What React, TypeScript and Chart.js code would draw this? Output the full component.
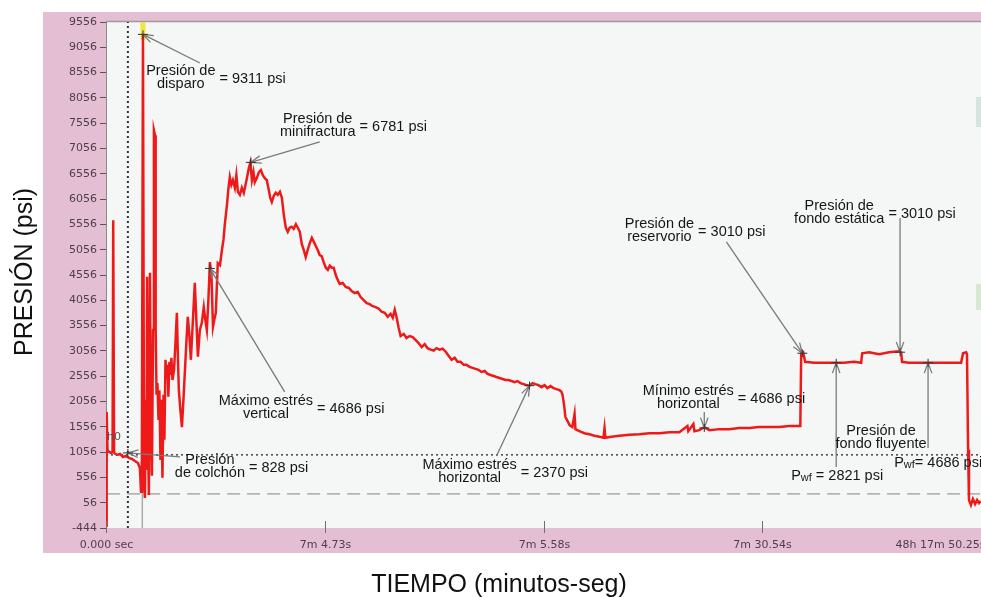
import React, { useEffect, useRef } from "react";
import { Chart, registerables } from "chart.js";

Chart.register(...registerables);

// ---------- axis ticks ----------
const xTickValues = [0, 1, 2, 3, 4];
const xTickLabels = ["0.000 sec", "7m 4.73s", "7m 5.58s", "7m 30.54s", "48h 17m 50.25s"];
const yTickValues = [-444, 56, 556, 1056, 1556, 2056, 2556, 3056, 3556, 4056, 4556, 5056, 5556, 6056, 6556, 7056, 7556, 8056, 8556, 9056, 9556];

// ---------- pressure record (time index, psi) ----------
const timeIdx = [
  0.000, 0.002, 0.004, 0.007, 0.014, 0.023, 0.030, 0.033, 0.037, 0.050, 0.064, 0.078, 0.091, 0.105, 0.119, 0.132,
  0.146, 0.155, 0.160, 0.164, 0.169, 0.172, 0.174, 0.178, 0.182, 0.185, 0.188, 0.192, 0.196, 0.201, 0.205, 0.210,
  0.215, 0.219, 0.224, 0.227, 0.231, 0.235, 0.240, 0.244, 0.249, 0.253, 0.258, 0.263, 0.267, 0.272, 0.276, 0.281,
  0.285, 0.290, 0.295, 0.299, 0.304, 0.311, 0.317, 0.324, 0.329, 0.333, 0.340, 0.347, 0.354, 0.361, 0.368, 0.374,
  0.381, 0.388, 0.395, 0.402, 0.406, 0.413, 0.420, 0.429, 0.438, 0.447, 0.454, 0.461, 0.468, 0.475, 0.482, 0.489,
  0.495, 0.502, 0.507, 0.511, 0.521, 0.530, 0.537, 0.543, 0.553, 0.559, 0.566, 0.573, 0.580, 0.589, 0.596, 0.603,
  0.612, 0.621, 0.630, 0.637, 0.644, 0.653, 0.660, 0.667, 0.674, 0.680, 0.689, 0.699, 0.708, 0.717, 0.726, 0.735,
  0.744, 0.751, 0.758, 0.767, 0.776, 0.785, 0.795, 0.804, 0.813, 0.822, 0.831, 0.840, 0.849, 0.858, 0.868, 0.877,
  0.886, 0.895, 0.904, 0.913, 0.922, 0.932, 0.941, 0.950, 0.959, 0.968, 0.977, 0.986, 0.995, 1.005, 1.014, 1.023,
  1.032, 1.041, 1.050, 1.059, 1.068, 1.082, 1.096, 1.110, 1.123, 1.137, 1.151, 1.164, 1.178, 1.192, 1.205, 1.219,
  1.233, 1.247, 1.260, 1.274, 1.288, 1.301, 1.311, 1.320, 1.329, 1.338, 1.347, 1.361, 1.374, 1.388, 1.402, 1.416,
  1.429, 1.443, 1.457, 1.470, 1.484, 1.498, 1.511, 1.525, 1.539, 1.553, 1.566, 1.580, 1.594, 1.607, 1.621, 1.635,
  1.648, 1.662, 1.676, 1.689, 1.703, 1.717, 1.731, 1.744, 1.758, 1.772, 1.785, 1.799, 1.813, 1.826, 1.840, 1.854,
  1.868, 1.881, 1.895, 1.909, 1.922, 1.936, 1.950, 1.963, 1.977, 1.991, 2.005, 2.018, 2.032, 2.046, 2.059, 2.073,
  2.082, 2.087, 2.094, 2.100, 2.110, 2.119, 2.132, 2.142, 2.146, 2.164, 2.187, 2.210, 2.233, 2.256, 2.274, 2.279,
  2.283, 2.311, 2.347, 2.393, 2.438, 2.484, 2.530, 2.575, 2.621, 2.658, 2.662, 2.685, 2.690, 2.712, 2.735, 2.758,
  2.804, 2.849, 2.895, 2.941, 2.986, 3.032, 3.078, 3.123, 3.174, 3.178, 3.187, 3.196, 3.237, 3.283, 3.333, 3.374,
  3.420, 3.452, 3.457, 3.489, 3.534, 3.580, 3.626, 3.635, 3.639, 3.671, 3.717, 3.753, 3.808, 3.854, 3.909, 3.918,
  3.932, 3.936, 3.941, 3.945, 3.954, 3.963, 3.973, 3.982, 3.991, 3.998,
];
const pressurePsi = [
  -400, 10, 1850, 1100, 1060, 1040, 1060, 5640, 1040, 1000, 1020, 960, 980, 940, 920, 880,
  840, 740, 270, 940, 9311, 4060, 410, 150, 2090, 700, 4520, 1300, 210, 4600, 1690, 590,
  3470, 7420, 7320, 3470, 2190, 2420, 1690, 2280, 900, 2090, 550, 2190, 1300, 2880, 2520, 2780,
  2150, 2840, 2580, 2920, 2480, 2680, 3170, 3810, 2880, 2280, 1890, 1550, 2090, 2680, 3270, 3730,
  3370, 2880, 3470, 4060, 4400, 3670, 2940, 3470, 3610, 3920, 3670, 3470, 4060, 4810, 4560, 3530,
  3670, 3810, 4360, 4790, 4750, 5050, 5250, 5550, 5940, 6240, 6490, 6340, 6430, 6280, 6530, 6200,
  6140, 6280, 6180, 6320, 6470, 6670, 6780, 6430, 6590, 6390, 6470, 6590, 6630, 6530, 6470, 6430,
  6240, 6080, 6000, 6120, 6180, 6140, 6200, 6080, 5740, 5490, 5410, 5490, 5510, 5470, 5560, 5490,
  5410, 5170, 5050, 4910, 5050, 5190, 5290, 5210, 5130, 5050, 4950, 4930, 4810, 4700, 4660, 4740,
  4700, 4700, 4560, 4460, 4380, 4400, 4320, 4300, 4240, 4200, 4220, 4120, 4060, 4000, 3980, 3940,
  3920, 3890, 3830, 3810, 3730, 3790, 3710, 3870, 3710, 3510, 3350, 3390, 3310, 3350, 3330, 3270,
  3210, 3130, 3190, 3110, 3080, 3060, 3110, 3080, 3100, 3040, 2960, 2880, 2920, 2840, 2840, 2780,
  2780, 2740, 2720, 2700, 2680, 2640, 2660, 2600, 2580, 2560, 2540, 2520, 2500, 2480, 2480, 2460,
  2440, 2460, 2420, 2400, 2380, 2370, 2420, 2400, 2380, 2340, 2380, 2320, 2360, 2320, 2300, 2280,
  2250, 2190, 1990, 1750, 1670, 1590, 1550, 1810, 1510, 1470, 1430, 1410, 1380, 1360, 1340, 1530,
  1340, 1360, 1380, 1400, 1410, 1430, 1430, 1450, 1450, 1570, 1470, 1610, 1470, 1490, 1550, 1490,
  1510, 1510, 1530, 1530, 1550, 1550, 1550, 1570, 1570, 3010, 3030, 2840, 2820, 2820, 2821, 2820,
  2840, 2820, 3010, 3030, 2990, 3030, 3050, 3030, 2840, 2820, 2820, 2820, 2820, 2820, 2820, 3010,
  3030, 2990, 1100, 110, 10, 130, 30, 110, 50, 90,
];

// ---------- reference lines ----------
const cushionRefPsi = 1000;
const lowerRefPsi = 230;
const firingMarkTime = 0.1;
const gunMarkTime = 0.166;
const gunMarkTopPsi = 840;

// ---------- annotations (data coordinates) ----------
type Note = { lines: string[]; cx: number; cy: number; value?: string; from?: [number, number]; to?: [number, number] };
const notes: Note[] = [
  { lines: ["Presión de", "disparo"], cx: 0.342, cy: 8459, value: "= 9311 psi", from: [0.429, 8746], to: [0.169, 9311] },
  { lines: ["Presión de", "minifractura"], cx: 0.968, cy: 7501, value: "= 6781 psi", from: [0.977, 7185], to: [0.662, 6781] },
  { lines: ["Máximo estrés", "vertical"], cx: 0.731, cy: 1938, value: "= 4686 psi", from: [0.817, 2245], to: [0.475, 4686] },
  { lines: ["Presión", "de colchón"], cx: 0.475, cy: 773, value: "= 828 psi", from: [0.338, 960], to: [0.1, 1040] },
  { lines: ["Máximo estrés", "horizontal"], cx: 1.662, cy: 664, value: "= 2370 psi", from: [1.785, 980], to: [1.936, 2370] },
  { lines: ["Mínimo estrés", "horizontal"], cx: 2.662, cy: 2136, value: "= 4686 psi", from: [2.735, 1850], to: [2.735, 1533] },
  { lines: ["Presión de", "reservorio"], cx: 2.53, cy: 5426, value: "= 3010 psi", from: [2.836, 5209], to: [3.183, 3010] },
  { lines: ["Presión de", "fondo estática"], cx: 3.352, cy: 5792, value: "= 3010 psi", from: [3.63, 5683], to: [3.63, 3030] },
  { lines: [], cx: 3.338, cy: 763, from: [3.338, 763], to: [3.338, 2821] },
  { lines: ["Presión de", "fondo fluyente"], cx: 3.543, cy: 1346, from: [3.758, 1138], to: [3.758, 2821] },
];
const pwfNotes = [
  { x: 3.132, y: 585, rest: " = 2821 psi" },
  { x: 3.603, y: 842, rest: "= 4686 psi" },
];
const h0Label = { x: 0.005, y: 1356, text: "h0" };
const firingHighlight = { x: 0.169, top: 9556, bottom: 9200 };
const edgeBlocks = [
  { top: 8074, bottom: 7481, color: "#d6e4e0" },
  { top: 4379, bottom: 3865, color: "#d7e7d1" },
];

const TXT_FONT = '"Liberation Sans", Arial, sans-serif';
const TICK_FONT = '"DejaVu Sans", sans-serif';
const TICK_COLOR = "#4e3d4e";

const decorPlugin = {
  id: "decor",
  beforeDraw(chart: any) {
    const { ctx, chartArea: a, width, height } = chart;
    ctx.save();
    ctx.fillStyle = "#ffffff";
    ctx.fillRect(0, 0, width, height);
    ctx.fillStyle = "#e4bfd4";
    ctx.fillRect(a.left - 63, a.top - 10, width - (a.left - 63), a.bottom + 25 - (a.top - 10));
    ctx.fillStyle = "#f4f7f6";
    ctx.fillRect(a.left, a.top, a.right - a.left, a.bottom - a.top);
    ctx.strokeStyle = "#9a9aa0";
    ctx.lineWidth = 1.5;
    ctx.beginPath();
    ctx.moveTo(a.left, a.top - 0.5);
    ctx.lineTo(a.right, a.top - 0.5);
    ctx.stroke();
    ctx.restore();
  },
  beforeDatasetsDraw(chart: any) {
    const { ctx, scales } = chart;
    const x = scales.x, y = scales.y;
    ctx.save();
    ctx.fillStyle = "rgba(240,228,40,0.9)";
    const hx = x.getPixelForValue(firingHighlight.x);
    const ht = y.getPixelForValue(firingHighlight.top);
    const hb = y.getPixelForValue(firingHighlight.bottom);
    ctx.fillRect(hx - 2.5, ht, 5, hb - ht);
    edgeBlocks.forEach((b) => {
      const t = y.getPixelForValue(b.top);
      const bt = y.getPixelForValue(b.bottom);
      ctx.fillStyle = b.color;
      ctx.fillRect(chart.chartArea.right - 5, t, 5, bt - t);
    });
    ctx.restore();
  },
  afterDraw(chart: any) {
    const { ctx, chartArea: a, scales } = chart;
    const xs = scales.x, ys = scales.y;
    ctx.save();

    // x tick marks (inside) and labels
    ctx.strokeStyle = "#6f6f6f";
    ctx.lineWidth = 1;
    ctx.font = `11px ${TICK_FONT}`;
    ctx.fillStyle = TICK_COLOR;
    ctx.textBaseline = "middle";
    xTickValues.forEach((v, i) => {
      const px = Math.round(xs.getPixelForValue(v)) + 0.5;
      ctx.beginPath();
      ctx.moveTo(px, a.bottom - 7);
      ctx.lineTo(px, a.bottom + 5);
      ctx.stroke();
      const last = i === xTickValues.length - 1;
      ctx.textAlign = last ? "right" : "center";
      ctx.fillText(xTickLabels[i], last ? px + 4 : px, a.bottom + 17);
    });

    // axis titles
    ctx.fillStyle = "#111111";
    ctx.font = `25px ${TXT_FONT}`;
    ctx.textAlign = "center";
    ctx.textBaseline = "alphabetic";
    ctx.fillText("TIEMPO (minutos-seg)", 499, a.bottom + 64);
    ctx.save();
    ctx.translate(32, 272);
    ctx.rotate(-Math.PI / 2);
    ctx.fillText("PRESIÓN (psi)", 0, 0);
    ctx.restore();

    // h0
    ctx.font = `11px ${TICK_FONT}`;
    ctx.fillStyle = "#555555";
    ctx.textAlign = "left";
    ctx.textBaseline = "middle";
    ctx.fillText(h0Label.text, xs.getPixelForValue(h0Label.x), ys.getPixelForValue(h0Label.y));

    // annotations
    const fontMain = `14.5px ${TXT_FONT}`;
    notes.forEach((n) => {
      if (n.from && n.to) {
        const x1 = xs.getPixelForValue(n.from[0]), y1 = ys.getPixelForValue(n.from[1]);
        const x2 = xs.getPixelForValue(n.to[0]), y2 = ys.getPixelForValue(n.to[1]);
        ctx.strokeStyle = "#7a7a7a";
        ctx.lineWidth = 1.3;
        ctx.beginPath();
        ctx.moveTo(x1, y1);
        ctx.lineTo(x2, y2);
        ctx.stroke();
        const ang = Math.atan2(y1 - y2, x1 - x2);
        const L = 11, w = 0.35;
        ctx.beginPath();
        ctx.moveTo(x2 + L * Math.cos(ang - w), y2 + L * Math.sin(ang - w));
        ctx.lineTo(x2, y2);
        ctx.lineTo(x2 + L * Math.cos(ang + w), y2 + L * Math.sin(ang + w));
        ctx.stroke();
        ctx.strokeStyle = "#333333";
        ctx.lineWidth = 1;
        ctx.beginPath();
        ctx.moveTo(x2 - 5, y2);
        ctx.lineTo(x2 + 5, y2);
        ctx.moveTo(x2, y2 - 4);
        ctx.lineTo(x2, y2 + 4);
        ctx.stroke();
      }
      if (n.lines.length) {
        ctx.font = fontMain;
        ctx.fillStyle = "#161616";
        ctx.textAlign = "center";
        ctx.textBaseline = "middle";
        const cx = xs.getPixelForValue(n.cx), cy = ys.getPixelForValue(n.cy);
        let maxW = 0;
        n.lines.forEach((l, i) => {
          maxW = Math.max(maxW, ctx.measureText(l).width);
          ctx.fillText(l, cx, cy + (i - (n.lines.length - 1) / 2) * 13);
        });
        if (n.value) {
          ctx.textAlign = "left";
          ctx.fillText(n.value, cx + maxW / 2 + 4, cy + 1.5);
        }
      }
    });

    // P_wf labels
    pwfNotes.forEach((p) => {
      const px = xs.getPixelForValue(p.x), py = ys.getPixelForValue(p.y);
      ctx.fillStyle = "#161616";
      ctx.textAlign = "left";
      ctx.textBaseline = "middle";
      ctx.font = fontMain;
      ctx.fillText("P", px, py);
      let cur = px + ctx.measureText("P").width;
      ctx.font = `11px ${TXT_FONT}`;
      ctx.fillText("wf", cur, py + 2);
      cur += ctx.measureText("wf").width;
      ctx.font = fontMain;
      ctx.fillText(p.rest, cur, py);
    });

    ctx.restore();
  },
};

export default function App() {
  const ref = useRef<HTMLCanvasElement | null>(null);
  useEffect(() => {
    if (!ref.current) return;
    const series = timeIdx.map((t, i) => ({ x: t, y: pressurePsi[i] }));
    const chart = new Chart(ref.current, {
      type: "line",
      data: {
        datasets: [
          {
            label: "Presión",
            data: series,
            borderColor: "#ee1a1a",
            borderWidth: 2.5,
            pointRadius: 0,
            tension: 0,
            order: 0,
          },
          {
            label: "colchon",
            data: [{ x: 0, y: cushionRefPsi }, { x: 4, y: cushionRefPsi }],
            borderColor: "#222222",
            borderWidth: 1.3,
            borderDash: [2, 3],
            pointRadius: 0,
            order: 2,
          },
          {
            label: "ref",
            data: [{ x: 0.005, y: lowerRefPsi }, { x: 4, y: lowerRefPsi }],
            borderColor: "#b4b4b4",
            borderWidth: 1.6,
            borderDash: [13, 7],
            pointRadius: 0,
            order: 3,
          },
          {
            label: "disparo",
            data: [{ x: firingMarkTime, y: -444 }, { x: firingMarkTime, y: 9556 }],
            borderColor: "#333333",
            borderWidth: 2,
            borderDash: [2, 3],
            pointRadius: 0,
            order: 4,
          },
          {
            label: "cañon",
            data: [{ x: gunMarkTime, y: -444 }, { x: gunMarkTime, y: gunMarkTopPsi }],
            borderColor: "#aaaaaa",
            borderWidth: 1.5,
            pointRadius: 0,
            order: 5,
          },
        ],
      },
      options: {
        responsive: false,
        animation: false,
        layout: { padding: { top: 22, right: 0, left: 0, bottom: 0 } },
        plugins: { legend: { display: false }, tooltip: { enabled: false } },
        scales: {
          x: {
            type: "linear",
            min: 0,
            max: 4,
            afterBuildTicks: (s: any) => {
              s.ticks = xTickValues.map((v) => ({ value: v }));
            },
            afterFit: (s: any) => {
              s.height = 69;
            },
            ticks: { display: false },
            grid: { drawOnChartArea: false, drawTicks: false },
            border: { display: false },
          },
          y: {
            type: "linear",
            min: -444,
            max: 9556,
            afterBuildTicks: (s: any) => {
              s.ticks = yTickValues.map((v) => ({ value: v }));
            },
            afterFit: (s: any) => {
              s.width = 106;
            },
            ticks: {
              autoSkip: false,
              padding: 3,
              color: TICK_COLOR,
              font: { family: "DejaVu Sans", size: 11 },
              callback: (v: any) => String(v),
            },
            grid: { drawOnChartArea: false, drawTicks: true, tickLength: 6, tickColor: "#555555", tickWidth: 1 },
            border: { display: true, color: "#8a8a8a", width: 1 },
          },
        },
      },
      plugins: [decorPlugin],
    } as any);
    return () => chart.destroy();
  }, []);
  return (
    <div style={{ position: "absolute", left: 0, top: 0, width: 981, height: 597, overflow: "hidden", background: "#fff" }}>
      <canvas ref={ref} width={981} height={597} style={{ display: "block" }} />
    </div>
  );
}
